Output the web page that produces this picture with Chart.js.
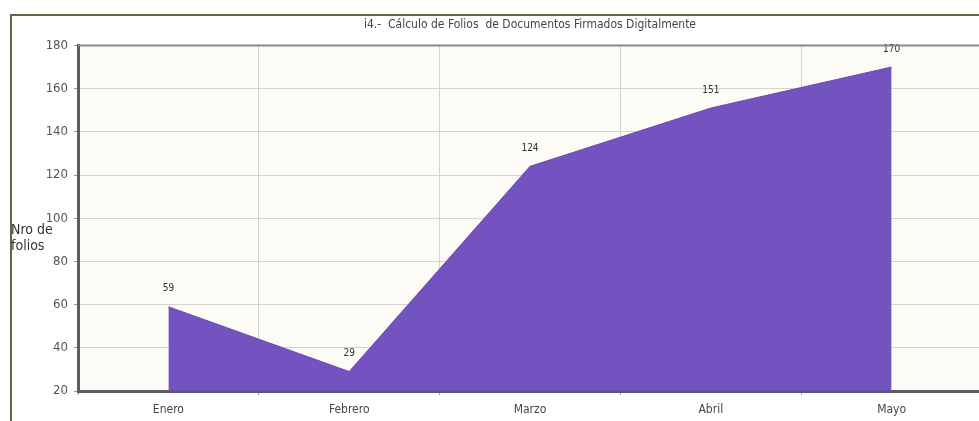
<!DOCTYPE html>
<html>
<head>
<meta charset="utf-8">
<script src="https://cdn.jsdelivr.net/npm/chart.js@4"></script>
<style>
  html, body { margin: 0; padding: 0; background: #ffffff; overflow: hidden; }
  #wrap { width: 990px; height: 421px; }
</style>
</head>
<body>
<div id="wrap"><canvas id="myChart" width="990" height="421"></canvas></div>
<script>
// folios firmados por mes
const meses = ['Enero', 'Febrero', 'Marzo', 'Abril', 'Mayo'];
const folios = [59, 29, 124, 151, 170];
const yTicks = [20, 40, 60, 80, 100, 120, 140, 160, 180];

const fuente = "'Liberation Sans Narrow', 'DejaVu Sans Condensed', sans-serif";

// marco exterior + fondo crema del area del grafico
const fondo = {
    id: 'fondo',
    beforeDraw(chart) {
        const c = chart.ctx, a = chart.chartArea;
        c.save();
        c.fillStyle = '#ffffff';
        c.fillRect(0, 0, chart.width, chart.height);
        c.strokeStyle = '#6b6345';
        c.lineWidth = 2;
        c.beginPath();
        c.moveTo(11, chart.height);
        c.lineTo(11, 15);
        c.lineTo(chart.width, 15);
        c.stroke();
        c.fillStyle = '#fdfbf6';
        c.fillRect(a.left, a.top, a.right - a.left, a.bottom - a.top);
        c.restore();
    },
    afterDraw(chart) {
        const c = chart.ctx, a = chart.chartArea;
        c.save();
        // linea superior del area
        c.strokeStyle = '#8a8a8a';
        c.lineWidth = 2;
        c.beginPath();
        c.moveTo(a.left, a.top);
        c.lineTo(a.right, a.top);
        c.stroke();
        // titulo del eje y, horizontal
        c.fillStyle = '#333333';
        c.font = '14px ' + fuente;
        c.textBaseline = 'middle';
        c.fillText('Nro de', 11, 230);
        c.fillText('folios', 11, 246);
        c.restore();
    }
};

// valores encima de cada punto
const etiquetas = {
    id: 'etiquetas',
    afterDatasetsDraw(chart) {
        const c = chart.ctx;
        const meta = chart.getDatasetMeta(0);
        c.save();
        c.fillStyle = '#333333';
        c.font = '10px ' + fuente;
        c.textAlign = 'center';
        c.textBaseline = 'middle';
        meta.data.forEach((pt, i) => {
            c.fillText(String(folios[i]), pt.x, pt.y - 18);
        });
        c.restore();
    }
};

var ctx = document.getElementById('myChart').getContext('2d');
var myChart = new Chart(ctx, {
    type: 'line',
    data: {
        labels: meses,
        datasets: [{
            data: folios,
            fill: 'start',
            backgroundColor: 'rgba(106, 74, 188, 0.95)',
            borderColor: '#6a4abb',
            borderWidth: 1,
            pointRadius: 0,
            tension: 0
        }]
    },
    options: {
        responsive: false,
        animation: false,
        layout: { padding: { top: 0, right: 8, left: 0, bottom: 0 } },
        plugins: {
            legend: { display: false },
            tooltip: { enabled: false },
            title: {
                display: true,
                fullSize: false, // centrado sobre el area del grafico
                text: 'i4.-  Cálculo de Folios  de Documentos Firmados Digitalmente',
                color: '#444444',
                font: { family: fuente, size: 12, weight: 'normal' },
                padding: { top: 18, bottom: 13 }
            }
        },
        scales: {
            x: {
                offset: true,
                grid: { offset: true, color: '#d6d3cc', tickLength: 4, tickColor: '#999999' },
                border: { color: '#5c5c5c', width: 3 },
                ticks: { color: '#444444', padding: 8, font: { family: fuente, size: 12 } },
                afterFit(scale) { scale.height = 30; }
            },
            y: {
                min: 20,
                max: 180,
                afterBuildTicks(scale) { scale.ticks = yTicks.map(v => ({ value: v })); },
                grid: { color: '#d6d3cc', tickLength: 4, tickColor: '#999999' },
                border: { color: '#5c5c5c', width: 3 },
                ticks: { color: '#555555', padding: 6, font: { family: fuente, size: 13 } },
                afterFit(scale) { scale.width = 78; }
            }
        }
    },
    plugins: [fondo, etiquetas]
});
</script>
</body>
</html>
